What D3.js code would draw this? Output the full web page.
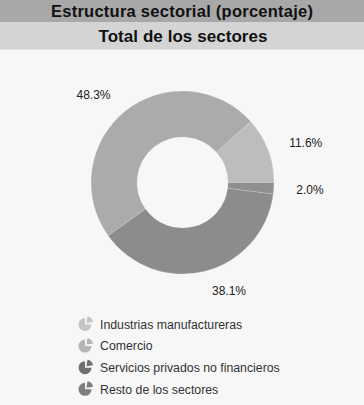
<!DOCTYPE html>
<html>
<head>
<meta charset="utf-8">
<script src="https://cdn.jsdelivr.net/npm/d3@7"></script>
<style>
  body { margin: 0; background: #f7f7f7; }
  svg { display: block; font-family: "Liberation Sans", Arial, sans-serif; }
</style>
</head>
<body>
<div id="chart"></div>
<script>
const title = "Estructura sectorial (porcentaje)";
const subtitle = "Total de los sectores";
const sectors = ["Industrias manufactureras", "Comercio", "Servicios privados no financieros", "Resto de los sectores"];
const shares = [11.6, 48.3, 38.1, 2.0];
const sliceColors = ["#bdbdbd", "#ababab", "#8c8c8c", "#8f8f8f"];
const legendColors = ["#c4c4c4", "#b5b5b5", "#707070", "#7e7e7e"];

const width = 364, height = 405;
const cx = 182.5, cy = 182.5;
const outerR = 91.5, innerR = 45.5, labelR = 112;

const svg = d3.select("#chart").append("svg")
    .attr("width", width)
    .attr("height", height);

svg.append("rect").attr("width", width).attr("height", height).attr("fill", "#f7f7f7");

// header bars
svg.append("rect").attr("x", 0).attr("y", 0).attr("width", width).attr("height", 22).attr("fill", "#a8a8a8");
svg.append("rect").attr("x", 0).attr("y", 22).attr("width", width).attr("height", 27.5).attr("fill", "#d4d4d4");

svg.append("text")
    .attr("x", width / 2).attr("y", 11.5)
    .attr("dy", "0.35em")
    .attr("text-anchor", "middle")
    .attr("textLength", 262)
    .style("font-weight", "bold").style("font-size", "16.5px")
    .attr("fill", "#111")
    .text(title);

svg.append("text")
    .attr("x", width / 2 + 1).attr("y", 36)
    .attr("dy", "0.35em")
    .attr("text-anchor", "middle")
    .attr("textLength", 169)
    .style("font-weight", "bold").style("font-size", "17px")
    .attr("fill", "#111")
    .text(subtitle);

// donut: starts at 3 o'clock, runs counter-clockwise
const pie = d3.pie()
    .sort(null)
    .value(d => d)
    .startAngle(Math.PI / 2)
    .endAngle(Math.PI / 2 - 2 * Math.PI);

const arcs = pie(shares);

const arc = d3.arc().innerRadius(innerR).outerRadius(outerR);
const labelArc = d3.arc().innerRadius(labelR).outerRadius(labelR);

const g = svg.append("g").attr("transform", `translate(${cx},${cy})`);

g.selectAll("path")
  .data(arcs)
  .join("path")
    .attr("d", arc)
    .attr("fill", (d, i) => sliceColors[i])
    .attr("stroke", "#f7f7f7")
    .attr("stroke-width", 0.2);

g.selectAll("text")
  .data(arcs)
  .join("text")
    .each(function(d) {
      const [x, y] = labelArc.centroid(d);
      d3.select(this)
        .attr("x", x > 0 ? x + 2 : x - 2)
        .attr("y", y)
        .attr("text-anchor", x > 0 ? "start" : "end");
    })
    .attr("dy", "0.35em")
    .style("font-size", "12px")
    .attr("fill", "#222")
    .text(d => d.data.toFixed(1) + "%");

// legend
const legend = svg.append("g").attr("transform", "translate(85,324.5)");

const iconMain = d3.arc().innerRadius(0).outerRadius(6.5).startAngle(Math.PI / 2).endAngle(2 * Math.PI);
const iconWedge = d3.arc().innerRadius(0).outerRadius(6.5).startAngle(0.15).endAngle(Math.PI / 2 - 0.15);

const item = legend.selectAll("g")
  .data(sectors)
  .join("g")
    .attr("transform", (d, i) => `translate(0,${i * 21.6})`);

item.append("path")
    .attr("d", iconMain())
    .attr("fill", (d, i) => legendColors[i]);

item.append("path")
    .attr("d", iconWedge())
    .attr("transform", "translate(1.5,-1.5)")
    .attr("fill", (d, i) => legendColors[i]);

item.append("text")
    .attr("x", 15)
    .attr("dy", "0.35em")
    .style("font-size", "12.3px")
    .attr("fill", "#333")
    .text(d => d);
</script>
</body>
</html>
